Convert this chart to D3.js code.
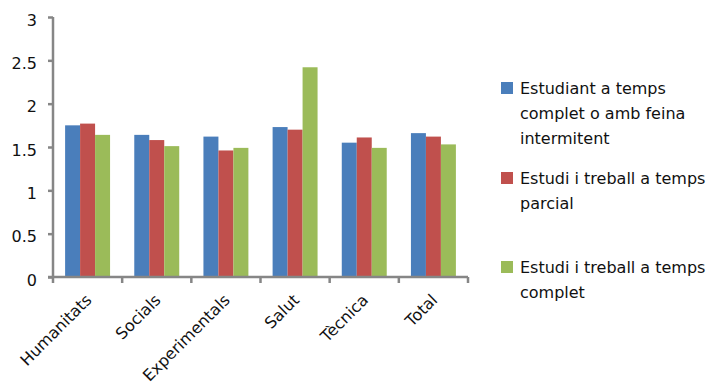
<!DOCTYPE html>
<html>
<head>
<meta charset="utf-8">
<script src="https://cdn.jsdelivr.net/npm/d3@7"></script>
<style>
  html, body { margin: 0; padding: 0; background: #fff; }
  svg { display: block; font-family: "DejaVu Sans", Verdana, sans-serif; }
</style>
</head>
<body>
<svg id="chart" width="714" height="389"></svg>
<script>
// Categories (field of study) and one value list per student situation
const categories = ["Humanitats", "Socials", "Experimentals", "Salut", "Tècnica", "Total"];
const seriesNames = [
  ["Estudiant a temps", "complet o amb feina", "intermitent"],
  ["Estudi i treball a temps", "parcial"],
  ["Estudi i treball a temps", "complet"]
];
const fullTime    = [1.75, 1.64, 1.62, 1.73, 1.55, 1.66];
const partTime    = [1.77, 1.58, 1.46, 1.70, 1.61, 1.62];
const workFull    = [1.64, 1.51, 1.49, 2.42, 1.49, 1.53];
const yTicks = [0, 0.5, 1, 1.5, 2, 2.5, 3];
const colors = ["#4A7EBB", "#C0504D", "#9BBB59"];

const series = [fullTime, partTime, workFull];

const svg = d3.select("#chart");
const axisColor = "#868686";

const plotLeft = 53, plotRight = 468, plotTop = 17, plotBottom = 277;

const y = d3.scaleLinear().domain([0, 3]).range([plotBottom, plotTop]);
const x0 = d3.scaleBand().domain(categories).range([plotLeft, plotRight])
  .paddingInner(0.35).paddingOuter(0.175);
const x1 = d3.scaleBand().domain(d3.range(series.length)).range([0, x0.bandwidth()]);

// Bars
const groups = svg.append("g").selectAll("g")
  .data(categories)
  .join("g")
  .attr("transform", d => `translate(${x0(d)},0)`);

groups.selectAll("rect")
  .data((c, ci) => series.map((s, si) => ({ si, v: s[ci] })))
  .join("rect")
  .attr("x", d => x1(d.si))
  .attr("width", x1.bandwidth())
  .attr("y", d => y(d.v))
  .attr("height", d => y(0) - y(d.v))
  .attr("fill", d => colors[d.si]);

// Y axis
const yAxis = d3.axisLeft(y).tickValues(yTicks).tickSize(5).tickPadding(11)
  .tickFormat(d3.format("~g"));
const gy = svg.append("g").attr("transform", `translate(${plotLeft},0)`).call(yAxis);
gy.select(".domain").attr("stroke", axisColor).attr("stroke-width", 2.5).attr("d", `M0,${plotTop}V${plotBottom}`);
gy.selectAll(".tick line").attr("stroke", axisColor).attr("stroke-width", 2.5);
gy.selectAll(".tick text").attr("font-size", 16).attr("fill", "#111").attr("dy", "0.52em")
  .attr("font-family", "DejaVu Sans, Verdana, sans-serif");

// X axis: baseline with ticks at category boundaries
const gx = svg.append("g");
gx.append("line")
  .attr("x1", plotLeft - 5).attr("x2", plotRight)
  .attr("y1", plotBottom).attr("y2", plotBottom)
  .attr("stroke", axisColor).attr("stroke-width", 2.5);
const step = x0.step();
gx.selectAll("line.tk")
  .data(d3.range(categories.length + 1))
  .join("line")
  .attr("class", "tk")
  .attr("x1", i => plotLeft + i * step).attr("x2", i => plotLeft + i * step)
  .attr("y1", plotBottom).attr("y2", plotBottom + 6)
  .attr("stroke", axisColor).attr("stroke-width", 2.5);

gx.selectAll("text")
  .data(categories)
  .join("text")
  .attr("transform", d => `translate(${x0(d) + x0.bandwidth() / 2 + 5},${plotBottom + 24}) rotate(-45)`)
  .attr("text-anchor", "end")
  .attr("font-size", 16)
  .attr("fill", "#111")
  .text(d => d);

// Legend
const legendBase = [94, 184, 273];
const legend = svg.append("g");
seriesNames.forEach((lines, i) => {
  legend.append("rect")
    .attr("x", 501).attr("y", legendBase[i] - 12)
    .attr("width", 12).attr("height", 12)
    .attr("fill", colors[i]);
  const t = legend.append("text")
    .attr("x", 520).attr("y", legendBase[i])
    .attr("font-size", 16).attr("fill", "#111");
  lines.forEach((ln, j) => {
    t.append("tspan").attr("x", 520).attr("y", legendBase[i] + j * 25).text(ln);
  });
});
</script>
</body>
</html>
